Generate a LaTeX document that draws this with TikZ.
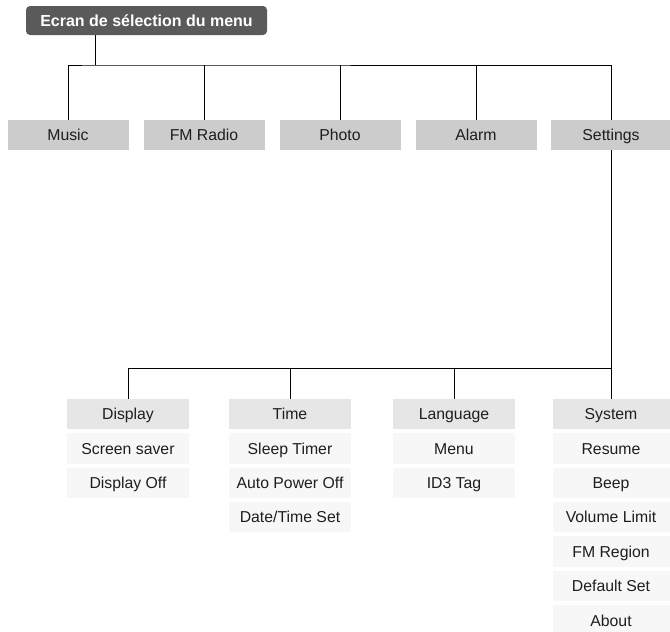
\documentclass[tikz,border=0pt]{standalone}
\usepackage{fontspec}
\setmainfont{Liberation Sans}
\usetikzlibrary{positioning}
\definecolor{mnuhead}{HTML}{5A5A5A}
\definecolor{mnutop}{HTML}{CCCCCC}
\definecolor{mnusub}{HTML}{E6E6E6}
\definecolor{mnuitem}{HTML}{F7F7F7}
\definecolor{mnutext}{HTML}{1E1E1E}

\begin{document}
\begin{tikzpicture}[x=1pt,y=-1pt,node distance=3.5pt]
        \tikzset{title/.style={fill=mnuhead,rounded corners=4pt,text=white,font=\fontsize{16}{18}\selectfont\bfseries,minimum width=241pt,minimum height=29pt,inner sep=0pt,text height=11.5pt,text depth=0pt},
          topbox/.style={fill=mnutop,text=mnutext,font=\fontsize{15.8}{18}\selectfont,minimum width=121pt,minimum height=30pt,inner sep=0pt,text height=11.3pt,text depth=0pt},
          subbox/.style={topbox,fill=mnusub,minimum width=122pt,minimum height=30.5pt},
          itembox/.style={subbox,fill=mnuitem},
          wire/.style={draw=black,line width=0.9pt}}
        \useasboundingbox (0,0) rectangle (670,632);
        % top of the menu
        \node[title] (title) at (146.5,20.5) {Ecran de sélection du menu};
        \node[topbox] (music) at (68,135) {Music};
        \node[topbox] (fmradio) at (204,135) {FM Radio};
        \node[topbox] (photo) at (340,135) {Photo};
        \node[topbox] (alarm) at (476,135) {Alarm};
        \node[topbox] (settings) at (611,135) {Settings};
        % settings sub menus
        \node[subbox] (display) at (128,414) {Display};
        \node[itembox,below=of display] (saver) {Screen saver};
        \node[itembox,below=of saver] (dispoff) {Display Off};
        \node[subbox] (time) at (290,414) {Time};
        \node[itembox,below=of time] (sleep) {Sleep Timer};
        \node[itembox,below=of sleep] (autooff) {Auto Power Off};
        \node[itembox,below=of autooff] (dateset) {Date/Time Set};
        \node[subbox] (language) at (454,414) {Language};
        \node[itembox,below=of language] (menu) {Menu};
        \node[itembox,below=of menu] (idtag) {ID3 Tag};
        \node[subbox,minimum width=117pt] (system) at (611,414) {System};
        \node[itembox,minimum width=117pt,below=of system] (resume) {Resume};
        \node[itembox,minimum width=117pt,below=of resume] (beep) {Beep};
        \node[itembox,minimum width=117pt,below=of beep] (vollimit) {Volume Limit};
        \node[itembox,minimum width=117pt,below=of vollimit] (fmregion) {FM Region};
        \node[itembox,minimum width=117pt,below=of fmregion] (defset) {Default Set};
        \node[itembox,minimum width=117pt,below=of defset] (about) {About};
        % connectors
        \coordinate (stem) at (95,35);
        \coordinate (bus) at (95,65);
        \coordinate (bus2) at (611,368);
        \draw[wire] (stem) -- (bus);
        \draw[wire] (music.north) |- (bus) -| (settings.north);
        \foreach \n in {fmradio,photo,alarm}
          \draw[wire] (\n.north) -- (\n.north |- bus);
        \draw[wire] (settings.south) -- (system.north);
        \draw[wire] (display.north) |- (bus2);
        \foreach \n in {time,language}
          \draw[wire] (\n.north) -- (\n.north |- bus2);
      \end{tikzpicture}
\end{document}
